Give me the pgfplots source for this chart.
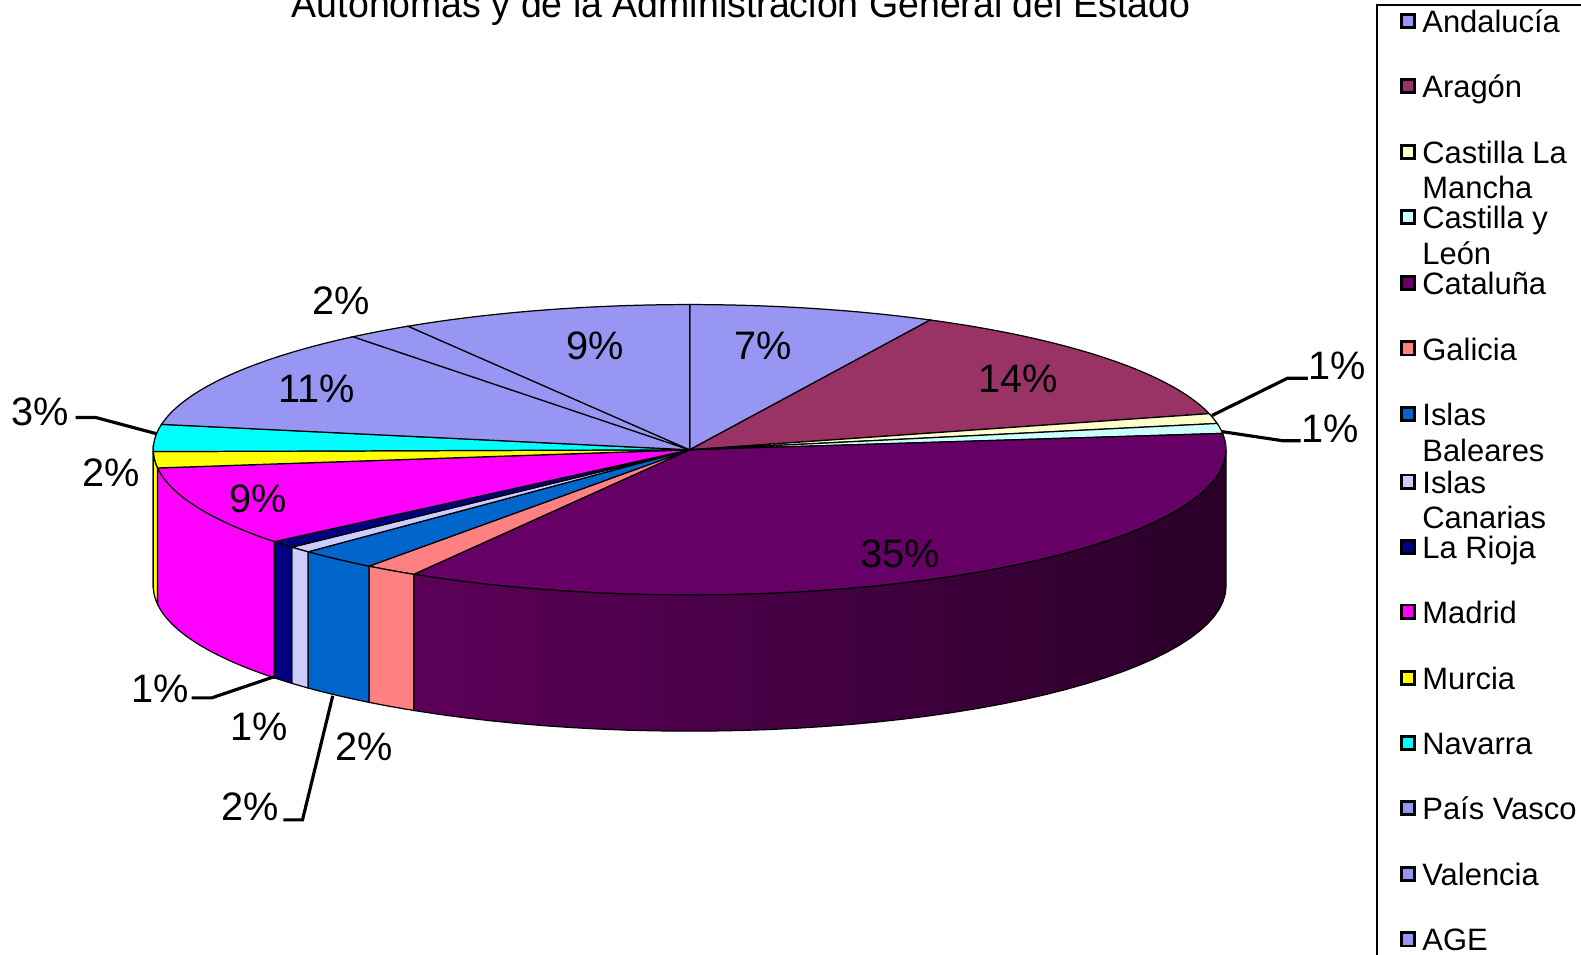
\documentclass[border=0pt]{standalone}
\usepackage{pgfplots}
\pgfplotsset{compat=1.18}
\usepackage{pgfplotstable}
\usepackage{fontspec}
\setmainfont{Liberation Sans}

\definecolor{c0}{HTML}{9797F3}
\definecolor{c1}{HTML}{993366}
\definecolor{c2}{HTML}{FFFFCC}
\definecolor{c3}{HTML}{CCFFFF}
\definecolor{c4}{HTML}{660066}
\definecolor{c5}{HTML}{FF8080}
\definecolor{c6}{HTML}{0066CC}
\definecolor{c7}{HTML}{CCCCFF}
\definecolor{c8}{HTML}{000080}
\definecolor{c9}{HTML}{FF00FF}
\definecolor{c10}{HTML}{FFFF00}
\definecolor{c11}{HTML}{00FFFF}
\definecolor{c12}{HTML}{9797F3}
\definecolor{c13}{HTML}{9797F3}
\definecolor{c14}{HTML}{9797F3}
\definecolor{catL}{HTML}{5C005A}
\definecolor{catM}{HTML}{460044}
\definecolor{catR}{HTML}{2A0028}

% share of each region (%), clockwise from 12 o'clock
\pgfplotstableread{
idx value
0 7.4
1 13.6
2 1.1
3 1.1
4 35.4
5 1.6
6 2.4
7 0.7
8 0.8
9 8.9
10 1.8
11 3.0
12 11.4
13 2.0
14 8.8
}\piedata

\newcommand{\topwedge}[3]{%
  \addplot[fill=#3, draw=black, line width=0.35pt, domain=#1:#2, samples=60]
   ({684+532*cos(x)},{446-144*sin(x)}) -- (axis cs:684,446) -- cycle;}

% side strip between angles #1<#2: top arc #1->#2 (s=0..40), bottom arc #2->#1 (s=60..100)
\newcommand{\sidestrip}[3]{%
  \addplot[#3, draw=black, line width=0.35pt, variable=\s, domain=0:100, samples=101]
   ({684+532*cos(ifthenelse(\s<50, (#1)+min(\s,40)/40*((#2)-(#1)), (#2)-(max(\s,60)-60)/40*((#2)-(#1))))},
    {446-144*sin(ifthenelse(\s<50, (#1)+min(\s,40)/40*((#2)-(#1)), (#2)-(max(\s,60)-60)/40*((#2)-(#1)))) + ifthenelse(\s<50, 0, 135)}) -- cycle;}

\newcommand{\lab}[3]{\node[font=\fontsize{11.3}{13}\selectfont] at (axis cs:#1,#2) {#3};}
\newcommand{\legkey}[3]{%
  \draw[fill=#1, draw=black, line width=0.8pt] (axis cs:1390,#2-18) rectangle (axis cs:1403,#2-5);
  \node[anchor=base west, inner sep=0pt, font=\fontsize{8.8}{10}\selectfont] at (axis cs:1410,#2) {#3};}
\newcommand{\legtxt}[2]{%
  \node[anchor=base west, inner sep=0pt, font=\fontsize{8.8}{10}\selectfont] at (axis cs:1410,#1) {#2};}

\begin{document}
\begin{tikzpicture}
\useasboundingbox (0,0) rectangle (15.81cm,9.55cm);
\clip (0,0) rectangle (15.81cm,9.55cm);
\begin{axis}[at={(0,0)}, anchor=south west, scale only axis,
  width=15.81cm, height=9.55cm, xmin=0, xmax=1568, ymin=0, ymax=947,
  y dir=reverse, axis lines=none, clip=false]

\pgfmathsetmacro\cum{0}
\pgfplotsforeachungrouped \i in {0,...,14}{%
  \pgfplotstablegetelem{\i}{value}\of\piedata
  \pgfmathsetmacro\ta{90-3.6*\cum}%
  \pgfmathsetmacro\cum{\cum+\pgfplotsretval}%
  \pgfmathsetmacro\tb{90-3.6*\cum}%
  \edef\doit{\noexpand\topwedge{\tb}{\ta}{c\i}}\doit
  \pgfmathsetmacro\sa{max(\tb,-180)}%
  \pgfmathsetmacro\sb{min(\ta,0)}%
  \pgfmathtruncatemacro\vis{\sa<\sb ? 1 : 0}%
  \ifnum\vis=1
    \ifnum\i=4
      \edef\doit{\noexpand\sidestrip{\sa}{\sb}{left color=catL, middle color=catM, right color=catR}}\doit
    \else
      \edef\doit{\noexpand\sidestrip{\sa}{\sb}{fill=c\i}}\doit
    \fi
  \fi
}

% leader lines
\addplot[black, line width=0.9pt] coordinates {(1202,412) (1277,375) (1297,375)};
\addplot[black, line width=0.9pt] coordinates {(1212,428) (1272,437) (1290,437)};
\addplot[black, line width=0.9pt] coordinates {(75,414) (95,414) (155,430)};
\addplot[black, line width=0.9pt] coordinates {(190,692) (210,692) (272,671)};
\addplot[black, line width=0.9pt] coordinates {(281,813) (300,813) (330,690)};

% labels
\lab{757}{343}{7\%}
\lab{1010}{376}{14\%}
\lab{893}{549}{35\%}
\lab{256}{495}{9\%}
\lab{314}{386}{11\%}
\lab{590}{343}{9\%}
\lab{1326}{363}{1\%}
\lab{1319}{425}{1\%}
\lab{40}{408}{3\%}
\lab{110}{469}{2\%}
\lab{338}{298}{2\%}
\lab{159}{683}{1\%}
\lab{257}{721}{1\%}
\lab{361}{740}{2\%}
\lab{248}{800}{2\%}

% title
\node[anchor=base, inner sep=0pt, font=\fontsize{11}{13}\selectfont] at (axis cs:735,17)
  {\scalebox{0.97}[1]{Autónomas y de la Administración General del Estado}};

% legend
\draw[black, line width=0.6pt] (axis cs:1366,5) rectangle (axis cs:1620,1000);
\legkey{c0}{32}{Andalucía}
\legkey{c1}{97}{Aragón}
\legkey{c2}{162}{Castilla La}
\legtxt{197}{Mancha}
\legkey{c3}{227}{Castilla y}
\legtxt{262}{León}
\legkey{c4}{292}{Cataluña}
\legkey{c5}{357}{Galicia}
\legkey{c6}{422}{Islas}
\legtxt{458}{Baleares}
\legkey{c7}{489}{Islas}
\legtxt{524}{Canarias}
\legkey{c8}{554}{La Rioja}
\legkey{c9}{618}{Madrid}
\legkey{c10}{684}{Murcia}
\legkey{c11}{748}{Navarra}
\legkey{c12}{813}{País Vasco}
\legkey{c13}{878}{Valencia}
\legkey{c14}{943}{AGE}
\end{axis}
\end{tikzpicture}
\end{document}
